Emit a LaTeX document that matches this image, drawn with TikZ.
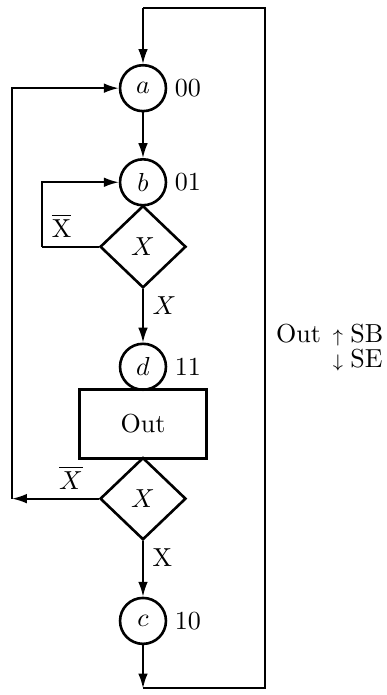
\documentclass[tikz,border=0pt]{standalone}
\usepackage{amsmath,amssymb}
\usepackage{tikz}
\usetikzlibrary{arrows.meta,shapes.geometric,positioning}

\begin{document}
\begin{tikzpicture}[
		>={Latex[length=2mm,width=1.3mm]},
		statenode/.style={draw, circle, line width=1pt, minimum size=0.62cm, inner sep=0pt},
		testnode/.style={draw, diamond, line width=1pt, minimum width=1.16cm, minimum height=1.11cm, inner sep=0pt},
		actbox/.style={draw, rectangle, line width=1pt, minimum width=1.71cm, minimum height=0.93cm},
		code/.style={inner sep=1pt},
		flow/.style={->, line width=0.7pt},
		wire/.style={line width=0.7pt}
	]
		\useasboundingbox (0,0) rectangle (5.21,9.38);

		\node[statenode] (a) at (1.93,8.19) {$a$};
		\node[statenode] (b) at (1.93,6.92) {$b$};
		\node[testnode] (t1) at (1.93,6.05) {$X$};
		\node[statenode] (d) at (1.93,4.43) {$d$};
		\node[actbox] (out) at (1.93,3.66) {Out};
		\node[testnode] (t2) at (1.93,2.65) {$X$};
		\node[statenode] (c) at (1.93,1.00) {$c$};

		% state codes
		\node[code, right=0.06cm of a] (ca) {00};
		\node[code, right=0.06cm of b] (cb) {01};
		\node[code, right=0.06cm of d] (cd) {11};
		\node[code, right=0.06cm of c] (cc) {10};

		% corners of the loops
		\coordinate (top) at (1.93,9.27);
		\coordinate (bot) at (1.93,0.09);
		\coordinate (topright) at (3.58,9.27);
		\coordinate[left=0.77cm of t1.west] (loopb);
		\coordinate[left=1.17cm of t2.west] (back);

		\draw[flow] (top) -- (a);
		\draw[flow] (a) -- (b);
		\draw[flow] (t1.south) -- node[pos=0.3, right] {$X$} (d);
		\draw[flow] (t2.south) -- node[pos=0.3, right] {X} (c);
		\draw[flow] (c) -- (bot);
		\draw[wire] (bot) -| (topright) -- (top);

		\draw[wire] (t1.west) -- node[pos=0.65, above] {$\overline{\mathrm{X}}$} (loopb);
		\draw[flow] (loopb) |- (b);
		\draw[flow] (t2.west) -- node[pos=0.32, above] {$\overline{X}$} (back);
		\draw[flow] (back) |- (a);

		% output signals
		\node[anchor=base west, align=left, inner sep=0pt] (sig) at (3.72,4.42)
			{Out\;\,$\scriptstyle\uparrow$\;SB\\[-2.5pt]\phantom{Out\;\,}$\scriptstyle\downarrow$\;SE};
	\end{tikzpicture}
\end{document}
